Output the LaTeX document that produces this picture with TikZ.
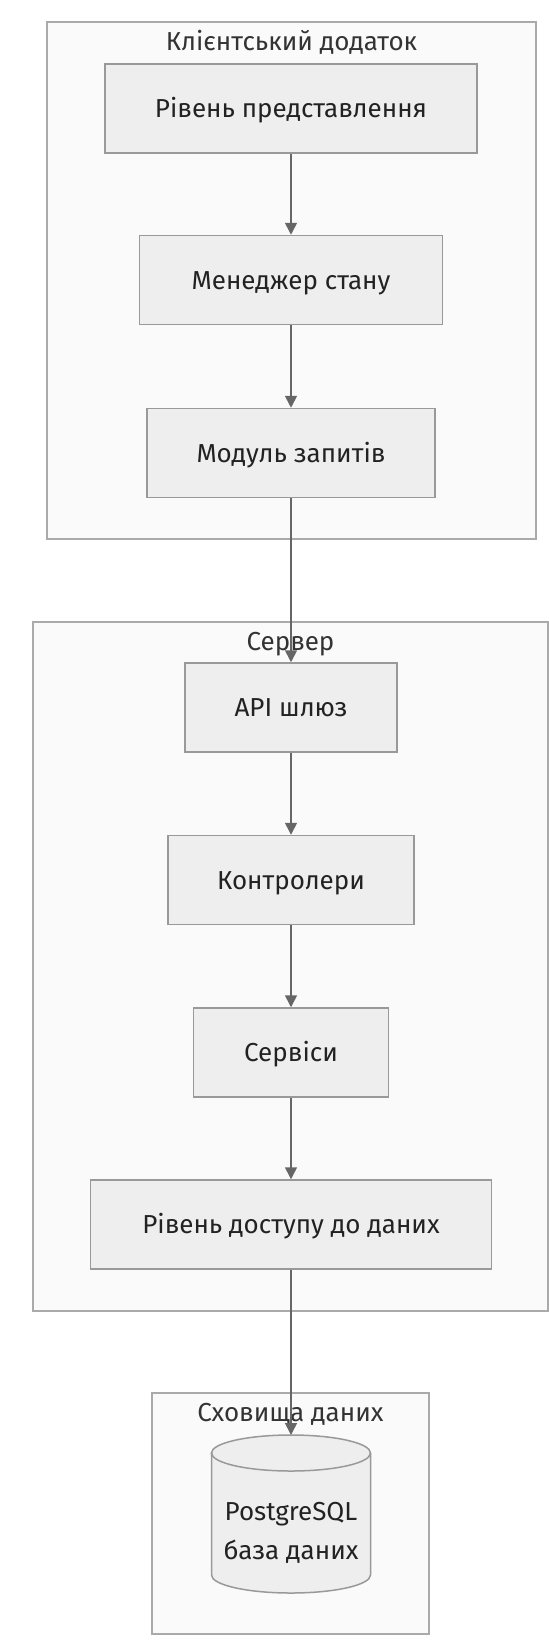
\documentclass[tikz,border=0pt]{standalone}
\usepackage{fontspec}
\setmainfont{Fira Sans}
\usetikzlibrary{arrows.meta}
\definecolor{clfill}{HTML}{FAFAFA}
\definecolor{clborder}{HTML}{AAAAAA}
\definecolor{nodefill}{HTML}{EEEEEE}
\definecolor{nodeborder}{HTML}{999999}
\definecolor{edgecol}{HTML}{666666}
\definecolor{txt}{HTML}{333333}
\definecolor{ntxt}{HTML}{222222}
\newcommand{\dfont}{\fontsize{26bp}{30bp}\selectfont}
\begin{document}
\begin{tikzpicture}[x=1bp,y=-1bp,
  cluster/.style={draw=clborder, fill=clfill, line width=1.8bp},
  clustertitle/.style={anchor=base, inner sep=0pt, text=txt, font=\dfont},
  box/.style={draw=nodeborder, fill=nodefill, line width=1.5bp, inner sep=0pt,
    text height=18bp, text depth=0pt, minimum height=89bp, text=ntxt, font=\dfont, anchor=center},
  dbtext/.style={anchor=base, inner sep=0pt, text=ntxt, font=\dfont},
  flow/.style={draw=edgecol, line width=1.6bp, -{Triangle[width=12bp,length=12bp]}}]
\useasboundingbox[fill=white] (0,0) rectangle (549,1641);

% clusters
\draw[cluster] (47,22) rectangle (536,539);
\node[clustertitle] (tclient) at (291.5,50.5) {Клієнтський додаток};
\draw[cluster] (33,622) rectangle (548,1311);
\node[clustertitle] (tserver) at (290.5,650) {Сервер};
\draw[cluster] (152,1393) rectangle (429,1634);
\node[clustertitle] (tstore) at (290.5,1421) {Сховища даних};

% nodes
\node[box, minimum width=372bp] (pres) at (291,108.5) {Рівень представлення};
\node[box, minimum width=303bp] (state) at (291,280) {Менеджер стану};
\node[box, minimum width=288bp] (req) at (291,453) {Модуль запитів};
\node[box, minimum width=212bp] (api) at (291,707.5) {API шлюз};
\node[box, minimum width=246bp] (ctrl) at (291,880) {Контролери};
\node[box, minimum width=195bp] (svc) at (291,1052.5) {Сервіси};
\node[box, minimum width=401bp] (dal) at (291,1224.5) {Рівень доступу до даних};

% cylinder
\draw[draw=nodeborder, fill=nodefill, line width=1.5bp]
  (211.5,1453) -- (211.5,1575)
  arc[start angle=180, end angle=360, x radius=79.5bp, y radius=18bp]
  -- (370.5,1453)
  arc[start angle=0, end angle=180, x radius=79.5bp, y radius=18bp] -- cycle;
\draw[draw=nodeborder, line width=1.5bp]
  (211.5,1453) arc[start angle=180, end angle=360, x radius=79.5bp, y radius=18bp];
\coordinate (dbtop) at (291,1435);
\node[dbtext] (db1) at (291,1520) {PostgreSQL};
\node[dbtext] (db2) at (291,1559) {база даних};

% connectors
\draw[flow] (pres) -- (state);
\draw[flow] (state) -- (req);
\draw[flow] (req) -- (api);
\draw[flow] (api) -- (ctrl);
\draw[flow] (ctrl) -- (svc);
\draw[flow] (svc) -- (dal);
\draw[flow] (dal) -- (dbtop);
\end{tikzpicture}
\end{document}
